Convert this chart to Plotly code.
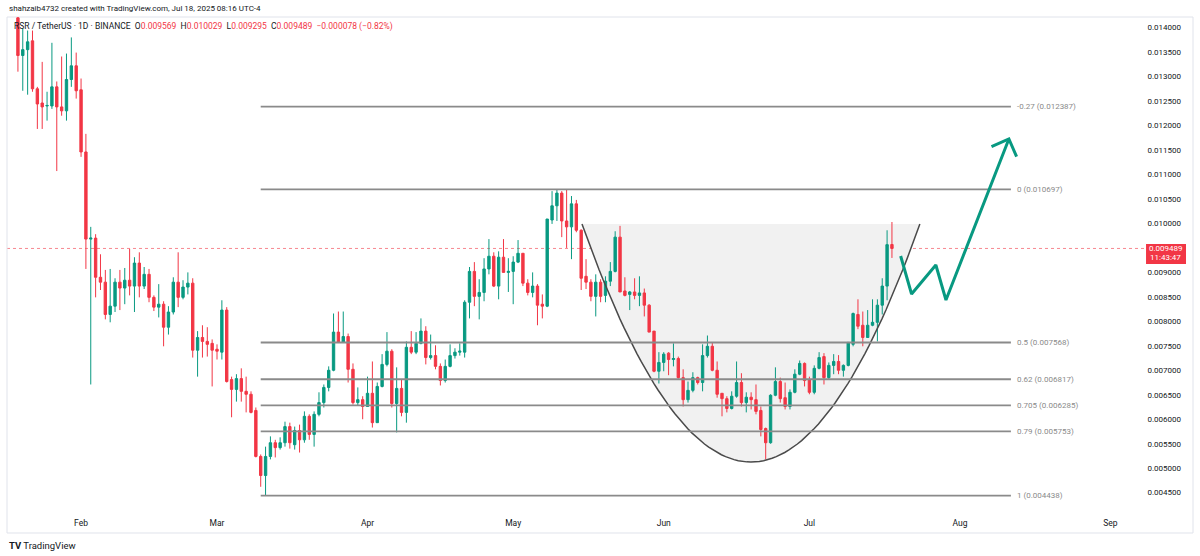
import numpy as np
import pandas as pd
import plotly.graph_objects as go

# RSR / USDT daily candles, Jan 19 - Jul 18 2025
first_day = "2025-01-19"
opens = [
    0.01420, 0.01343, 0.01355, 0.01373, 0.01275, 0.01246, 0.01240, 0.01240, 0.01279, 0.01238,
    0.01230, 0.01294, 0.01322, 0.01273, 0.01146, 0.00968, 0.00970, 0.00890, 0.00880, 0.00814,
    0.00831, 0.00880, 0.00868, 0.00884, 0.00872, 0.00919, 0.00872, 0.00896, 0.00849, 0.00829,
    0.00835, 0.00788, 0.00819, 0.00880, 0.00849, 0.00870, 0.00878, 0.00741, 0.00767, 0.00759,
    0.00755, 0.00743, 0.00737, 0.00823, 0.00681, 0.00661, 0.00683, 0.00657, 0.00651, 0.00618,
    0.00524, 0.00485, 0.00524, 0.00552, 0.00542, 0.00552, 0.00585, 0.00548, 0.00577, 0.00558,
    0.00606, 0.00569, 0.00610, 0.00634, 0.00665, 0.00700, 0.00778, 0.00757, 0.00769, 0.00702,
    0.00634, 0.00640, 0.00626, 0.00653, 0.00593, 0.00667, 0.00712, 0.00739, 0.00632, 0.00663,
    0.00614, 0.00747, 0.00737, 0.00755, 0.00780, 0.00726, 0.00730, 0.00708, 0.00679, 0.00708,
    0.00730, 0.00737, 0.00737, 0.00839, 0.00902, 0.00851, 0.00859, 0.00907, 0.00933, 0.00872,
    0.00931, 0.00900, 0.00902, 0.00921, 0.00939, 0.00878, 0.00859, 0.00872, 0.00835, 0.00831,
    0.01007, 0.01036, 0.01062, 0.01005, 0.00993, 0.01040, 0.00986, 0.00892, 0.00880, 0.00851,
    0.00880, 0.00853, 0.00882, 0.00902, 0.00972, 0.00862, 0.00855, 0.00860, 0.00853, 0.00858,
    0.00833, 0.00780, 0.00698, 0.00716, 0.00735, 0.00722, 0.00724, 0.00685, 0.00640, 0.00659,
    0.00685, 0.00675, 0.00730, 0.00749, 0.00700, 0.00653, 0.00642, 0.00622, 0.00647, 0.00675,
    0.00634, 0.00645, 0.00640, 0.00618, 0.00581, 0.00552, 0.00649, 0.00677, 0.00644, 0.00626,
    0.00655, 0.00692, 0.00714, 0.00681, 0.00655, 0.00704, 0.00728, 0.00685, 0.00710, 0.00718,
    0.00700, 0.00710, 0.00753, 0.00814, 0.00792, 0.00767, 0.00792, 0.00798, 0.00833, 0.00872,
    0.009569,
]
highs = [
    0.01440, 0.01398, 0.01394, 0.01394, 0.01279, 0.01330, 0.01269, 0.01369, 0.01290, 0.01341,
    0.01347, 0.01380, 0.01349, 0.01296, 0.01183, 0.00993, 0.00978, 0.00937, 0.00905, 0.00907,
    0.00888, 0.00905, 0.00909, 0.00948, 0.00931, 0.00941, 0.00911, 0.00907, 0.00853, 0.00876,
    0.00841, 0.00831, 0.00890, 0.00941, 0.00884, 0.00900, 0.00888, 0.00780, 0.00792, 0.00788,
    0.00763, 0.00753, 0.00843, 0.00829, 0.00687, 0.00692, 0.00704, 0.00687, 0.00657, 0.00624,
    0.00528, 0.00544, 0.00565, 0.00558, 0.00563, 0.00595, 0.00593, 0.00585, 0.00589, 0.00616,
    0.00610, 0.00616, 0.00655, 0.00671, 0.00708, 0.00816, 0.00820, 0.00820, 0.00775, 0.00714,
    0.00665, 0.00647, 0.00687, 0.00718, 0.00675, 0.00733, 0.00778, 0.00743, 0.00706, 0.00681,
    0.00759, 0.00780, 0.00778, 0.00806, 0.00790, 0.00773, 0.00751, 0.00714, 0.00722, 0.00753,
    0.00745, 0.00755, 0.00843, 0.00911, 0.00921, 0.00886, 0.00929, 0.00968, 0.00941, 0.00943,
    0.00968, 0.00929, 0.00933, 0.00966, 0.00939, 0.00886, 0.00900, 0.00876, 0.00855, 0.01009,
    0.01066, 0.010697, 0.01066, 0.01069, 0.01056, 0.01048, 0.00988, 0.00927, 0.00886, 0.00896,
    0.00886, 0.00892, 0.00921, 0.00984, 0.00995, 0.00890, 0.00862, 0.00888, 0.00892, 0.00867,
    0.00835, 0.00780, 0.00737, 0.00737, 0.00737, 0.00755, 0.00728, 0.00702, 0.00677, 0.00696,
    0.00687, 0.00753, 0.00771, 0.00757, 0.00718, 0.00653, 0.00647, 0.00657, 0.00718, 0.00694,
    0.00655, 0.00655, 0.00671, 0.00626, 0.00583, 0.00651, 0.00706, 0.00685, 0.00675, 0.00661,
    0.00702, 0.00720, 0.00716, 0.00687, 0.00710, 0.00737, 0.00735, 0.00716, 0.00733, 0.00731,
    0.00712, 0.00757, 0.00818, 0.00845, 0.00820, 0.00823, 0.00845, 0.00845, 0.00888, 0.00986,
    0.010029,
]
lows = [
    0.01310, 0.01271, 0.01263, 0.01269, 0.01193, 0.01193, 0.01210, 0.01234, 0.01107, 0.01220,
    0.01210, 0.01279, 0.01255, 0.01136, 0.00907, 0.00671, 0.00849, 0.00864, 0.00804, 0.00798,
    0.00819, 0.00823, 0.00835, 0.00853, 0.00819, 0.00849, 0.00866, 0.00839, 0.00821, 0.00808,
    0.00749, 0.00773, 0.00814, 0.00829, 0.00845, 0.00855, 0.00726, 0.00687, 0.00726, 0.00728,
    0.00667, 0.00722, 0.00722, 0.00675, 0.00604, 0.00636, 0.00636, 0.00614, 0.00612, 0.00522,
    0.00462, 0.004438, 0.00518, 0.00522, 0.00538, 0.00544, 0.00540, 0.00538, 0.00532, 0.00552,
    0.00558, 0.00544, 0.00606, 0.00624, 0.00657, 0.00698, 0.00757, 0.00757, 0.00675, 0.00630,
    0.00628, 0.00600, 0.00626, 0.00583, 0.00593, 0.00665, 0.00708, 0.00624, 0.00573, 0.00606,
    0.00593, 0.00733, 0.00733, 0.00753, 0.00712, 0.00722, 0.00702, 0.00669, 0.00675, 0.00706,
    0.00724, 0.00730, 0.00726, 0.00806, 0.00831, 0.00804, 0.00841, 0.00896, 0.00870, 0.00845,
    0.00900, 0.00860, 0.00835, 0.00919, 0.00872, 0.00853, 0.00849, 0.00792, 0.00806, 0.00829,
    0.00999, 0.01005, 0.00972, 0.00950, 0.00927, 0.00982, 0.00864, 0.00866, 0.00841, 0.00810,
    0.00839, 0.00839, 0.00872, 0.00900, 0.00860, 0.00851, 0.00823, 0.00845, 0.00831, 0.00810,
    0.00778, 0.00696, 0.00673, 0.00698, 0.00690, 0.00708, 0.00683, 0.00626, 0.00634, 0.00655,
    0.00671, 0.00657, 0.00726, 0.00698, 0.00644, 0.00606, 0.00614, 0.00620, 0.00644, 0.00626,
    0.00614, 0.00620, 0.00610, 0.00565, 0.00518, 0.00550, 0.00647, 0.00634, 0.00620, 0.00620,
    0.00653, 0.00690, 0.00667, 0.00651, 0.00651, 0.00702, 0.00671, 0.00681, 0.00692, 0.00692,
    0.00687, 0.00708, 0.00749, 0.00784, 0.00749, 0.00767, 0.00790, 0.00759, 0.00814, 0.00843,
    0.009295,
]
closes = [
    0.01343, 0.01355, 0.01371, 0.01275, 0.01244, 0.01238, 0.01241, 0.01279, 0.01238, 0.01230,
    0.01294, 0.01322, 0.01271, 0.01146, 0.00968, 0.00970, 0.00890, 0.00880, 0.00814, 0.00831,
    0.00880, 0.00868, 0.00884, 0.00872, 0.00919, 0.00872, 0.00896, 0.00849, 0.00829, 0.00835,
    0.00788, 0.00819, 0.00880, 0.00849, 0.00870, 0.00878, 0.00741, 0.00767, 0.00759, 0.00753,
    0.00741, 0.00739, 0.00823, 0.00677, 0.00661, 0.00683, 0.00657, 0.00651, 0.00614, 0.00524,
    0.00485, 0.00524, 0.00552, 0.00542, 0.00552, 0.00585, 0.00552, 0.00577, 0.00558, 0.00606,
    0.00569, 0.00610, 0.00634, 0.00665, 0.00700, 0.00778, 0.00757, 0.00769, 0.00702, 0.00634,
    0.00640, 0.00626, 0.00653, 0.00593, 0.00667, 0.00712, 0.00739, 0.00632, 0.00663, 0.00614,
    0.00747, 0.00737, 0.00755, 0.00780, 0.00726, 0.00730, 0.00708, 0.00679, 0.00708, 0.00730,
    0.00737, 0.00739, 0.00839, 0.00902, 0.00851, 0.00859, 0.00907, 0.00933, 0.00872, 0.00931,
    0.00900, 0.00902, 0.00921, 0.00939, 0.00878, 0.00859, 0.00872, 0.00833, 0.00831, 0.01009,
    0.01036, 0.01062, 0.01005, 0.00993, 0.01040, 0.00986, 0.00888, 0.00880, 0.00851, 0.00880,
    0.00851, 0.00882, 0.00902, 0.00972, 0.00860, 0.00853, 0.00860, 0.00853, 0.00858, 0.00833,
    0.00778, 0.00698, 0.00716, 0.00733, 0.00722, 0.00724, 0.00685, 0.00640, 0.00659, 0.00685,
    0.00675, 0.00730, 0.00749, 0.00700, 0.00651, 0.00642, 0.00622, 0.00647, 0.00675, 0.00634,
    0.00645, 0.00640, 0.00616, 0.00579, 0.00552, 0.00649, 0.00677, 0.00642, 0.00626, 0.00655,
    0.00692, 0.00714, 0.00679, 0.00655, 0.00704, 0.00726, 0.00685, 0.00710, 0.00718, 0.00700,
    0.00710, 0.00757, 0.00816, 0.00790, 0.00767, 0.00792, 0.00798, 0.00833, 0.00872, 0.009567,
    0.009489,
]

# fibonacci retracement drawing
fib_levels = ["-0.27", "0", "0.5", "0.62", "0.705", "0.79", "1"]
fib_prices = [0.012387, 0.010697, 0.007568, 0.006817, 0.006285, 0.005753, 0.004438]
fib_start, fib_end = "2025-03-10", "2025-08-11 12:00"

# cup drawing: rim dates, rim price, bottom price
cup_left, cup_right = "2025-05-15 04:00", "2025-07-23 18:00"
cup_rim, cup_bottom = 0.009988, 0.005126

# projected path arrow
path_dates = ["2025-07-19 19:00", "2025-07-22 01:00", "2025-07-27 01:00",
              "2025-07-29 03:00", "2025-08-11 02:00"]
path_prices = [0.009334, 0.008558, 0.009151, 0.008436, 0.011725]
head_dates = ["2025-08-07 12:00", "2025-08-11 02:00", "2025-08-12 16:00"]
head_prices = [0.011567, 0.011725, 0.011363]

month_ticks = ["2025-02-01", "2025-03-01", "2025-04-01", "2025-05-01",
               "2025-06-01", "2025-07-01", "2025-08-01", "2025-09-01"]
month_labels = ["Feb", "Mar", "Apr", "May", "Jun", "Jul", "Aug", "Sep"]
price_ticks = [round(0.0045 + 0.0005 * i, 4) for i in range(20)]

GREEN = "#089981"
RED = "#f23645"
FONT = "Roboto"

dates = pd.date_range(first_day, periods=len(closes), freq="D")

fig = go.Figure()

# cup curve (parabola between the rims)
t = np.linspace(0, 1, 81)
l0, r0 = pd.Timestamp(cup_left), pd.Timestamp(cup_right)
cup_x = [(l0 + (r0 - l0) * v).round("min") for v in t]
cup_y = cup_bottom + (cup_rim - cup_bottom) * (2 * t - 1) ** 2
cup_path = "M " + " L ".join(f"{x.strftime('%Y-%m-%d_%H:%M')},{y:.7f}"
                             for x, y in zip(cup_x, cup_y)) + " Z"
fig.add_shape(type="path", xref="x", yref="y", path=cup_path,
              fillcolor="#f1f1f1", line=dict(width=0), layer="below")

fig.add_trace(go.Candlestick(
    x=dates, open=opens, high=highs, low=lows, close=closes,
    increasing=dict(line=dict(color=GREEN, width=1), fillcolor=GREEN),
    decreasing=dict(line=dict(color=RED, width=1), fillcolor=RED),
    whiskerwidth=0, showlegend=False, hoverinfo="skip",
))

fig.add_trace(go.Scatter(x=cup_x, y=cup_y, mode="lines",
                         line=dict(color="#4a4a4a", width=1.5),
                         hoverinfo="skip", showlegend=False))

# fib lines + labels
for lvl, p in zip(fib_levels, fib_prices):
    fig.add_trace(go.Scatter(x=[fib_start, fib_end], y=[p, p], mode="lines",
                             line=dict(color="#8a8a8a", width=1.8),
                             hoverinfo="skip", showlegend=False))
    fig.add_annotation(x=fib_end, y=p, text=f"{lvl} ({p:.6f})", showarrow=False,
                       xanchor="left", yanchor="middle", xshift=4,
                       font=dict(family=FONT, size=8, color="#8a8a8a"))

# projected path
fig.add_trace(go.Scatter(x=path_dates, y=path_prices, mode="lines",
                         line=dict(color=GREEN, width=3), hoverinfo="skip", showlegend=False))
fig.add_trace(go.Scatter(x=head_dates, y=head_prices, mode="lines",
                         line=dict(color=GREEN, width=3), hoverinfo="skip", showlegend=False))

# last price line and label box
last = closes[-1]
fig.add_shape(type="line", xref="paper", yref="y", x0=0, x1=0.9604, y0=last, y1=last,
              line=dict(color="rgba(242,54,69,0.75)", width=0.8, dash="dot"), layer="below")
fig.add_shape(type="rect", xref="paper", yref="y", ysizemode="pixel", yanchor=last,
              x0=0.9604, x1=0.9941, y0=-15.5, y1=4.5,
              fillcolor=RED, line=dict(width=0), layer="above")
fig.add_annotation(xref="paper", yref="y", x=0.9772, y=last, xanchor="center", yanchor="middle",
                   text=f"{last:.6f}", showarrow=False,
                   font=dict(family=FONT, size=8, color="white"))
fig.add_annotation(xref="paper", yref="y", x=0.9772, y=last, xanchor="center", yanchor="middle",
                   yshift=-9, text="11:43:47", showarrow=False,
                   font=dict(family=FONT, size=8, color="white"))

# header
chg = closes[-1] - closes[-2]
pct = chg / closes[-2] * 100
sp = "\u00a0\u00a0"
def red(v):
    return f"<span style='color:{RED}'>{v}</span>"
ohlc = (f"RSR / TetherUS · 1D · BINANCE{sp}O{red(f'{opens[-1]:.6f}')}{sp}"
        f"H{red(f'{highs[-1]:.6f}')}{sp}L{red(f'{lows[-1]:.6f}')}{sp}"
        f"C{red(f'{closes[-1]:.6f}')}{sp}"
        + red(f"{chg:+.6f} ({pct:+.2f}%)".replace("-", "\u2212")))
fig.add_annotation(xref="paper", yref="paper", x=0.0042, y=0.98, xanchor="left", yanchor="middle",
                   text=ohlc, showarrow=False, font=dict(family=FONT, size=8.5, color="#131722"))
fig.add_annotation(xref="paper", yref="paper", x=0.0, y=1.018, xanchor="left", yanchor="middle",
                   text="shahzaib4732 created with TradingView.com, Jul 18, 2025 08:16 UTC-4",
                   showarrow=False, font=dict(family=FONT, size=8, color="#131722"))
fig.add_annotation(xref="paper", yref="paper", x=0.0, y=-0.067, xanchor="left", yanchor="middle",
                   text="<b>TV</b> TradingView", showarrow=False,
                   font=dict(family=FONT, size=9.5, color="#131722"))

# outer frame
fig.add_shape(type="rect", xref="paper", yref="paper", x0=0, x1=1, y0=-0.0424, y1=1,
              line=dict(color="#e0e3eb", width=1), layer="below")

fig.update_layout(
    width=1200, height=556,
    margin=dict(l=7, r=7, t=17, b=44),
    paper_bgcolor="white", plot_bgcolor="white",
    showlegend=False,
    font=dict(family=FONT, size=8, color="#131722"),
    xaxis=dict(type="date", range=["2025-01-16 18:00", "2025-09-18"],
               rangeslider=dict(visible=False), showgrid=False, zeroline=False,
               tickvals=month_ticks, ticktext=month_labels, ticks="",
               ticklabelstandoff=4,
               tickfont=dict(family=FONT, size=8.5, color="#131722")),
    yaxis=dict(side="right", range=[0.004105, 0.014217], showgrid=False, zeroline=False,
               tickvals=price_ticks, tickformat=".6f", ticks="",
               ticklabelposition="inside", ticklabelstandoff=9,
               tickfont=dict(family=FONT, size=8, color="#131722")),
)

fig.write_html("out.html", config={"displayModeBar": False},
               post_script="document.body.style.margin='0';document.body.style.padding='0';")
